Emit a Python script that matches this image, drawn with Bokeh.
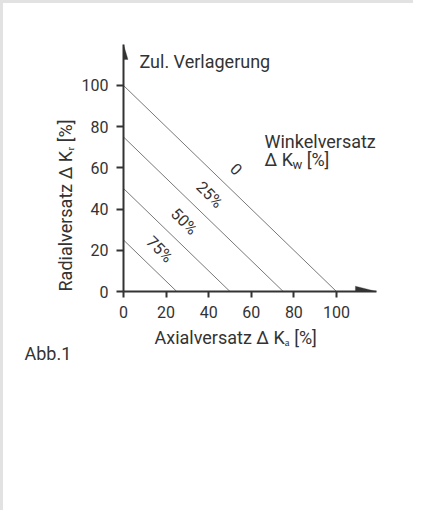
import math
from bokeh.plotting import figure
from bokeh.models import ColumnDataSource, FixedTicker, Label, PolyAnnotation, Title
from bokeh.core.properties import value
from bokeh.embed import file_html
from bokeh.resources import INLINE

# ---- data ----
x_ticks = [0, 20, 40, 60, 80, 100]
y_ticks = [0, 20, 40, 60, 80, 100]
line_totals = [100, 75, 50, 25]          # axial + radial limit for each angular offset
angular_labels = ["0", "25%", "50%", "75%"]
label_pos_x = [53, 40.5, 28.5, 17]       # where each label sits along its line
label_gap = 12.5

FONT = "Roboto"
TXT = "#333333"

W, H = 413, 510
p = figure(width=W, height=H, output_backend="svg", toolbar_location=None,
           x_range=(0, 118.8), y_range=(0, 119.9),
           min_border_left=120, min_border_top=41, min_border_right=40,
           min_border_bottom=222)
p.styles = {"border-left": "3px solid #e2e2e2", "border-top": "3px solid #e2e2e2"}
p.outline_line_color = None
p.xgrid.visible = False
p.ygrid.visible = False

for ax, ticks in ((p.xaxis, x_ticks), (p.yaxis, y_ticks)):
    ax.ticker = FixedTicker(ticks=ticks)
    ax.axis_line_color = TXT
    ax.axis_line_width = 2
    ax.major_tick_line_color = TXT
    ax.major_tick_line_width = 2
    ax.major_tick_in = 0
    ax.major_tick_out = 7
    ax.minor_tick_line_color = None
    ax.major_label_text_font = FONT
    ax.major_label_text_font_size = "16px"
    ax.major_label_text_color = TXT
p.xaxis.major_tick_out = 6
p.xaxis.major_label_standoff = 8
p.yaxis.major_label_standoff = 8

# diagonal limit lines
src = ColumnDataSource(dict(x0=[0] * len(line_totals), y0=line_totals,
                            x1=line_totals, y1=[0] * len(line_totals)))
p.segment(x0="x0", y0="y0", x1="x1", y1="y1", source=src,
          line_color="#555555", line_width=0.8)

# rotated line labels
lsrc = ColumnDataSource(dict(
    x=label_pos_x,
    y=[t + label_gap - lx for t, lx in zip(line_totals, label_pos_x)],
    t=angular_labels))
p.text(x="x", y="y", text="t", source=lsrc, angle=-math.pi / 4,
       text_align="center", text_baseline="middle",
       text_font=value(FONT), text_font_size="16px", text_color=TXT)

# arrow heads
p.add_layout(PolyAnnotation(xs=[-2.1, 0, 2.1], ys=[112.6, 119.9, 112.6],
                            fill_color=TXT, fill_alpha=1, line_color=TXT, line_width=1))
p.add_layout(PolyAnnotation(xs=[108.9, 118.8, 108.9], ys=[-2.6, 0, 2.6],
                            fill_color=TXT, fill_alpha=1, line_color=TXT, line_width=1))

def lab(x, y, text, size="18px"):
    p.add_layout(Label(x=x, y=y, text=text, text_font=FONT, text_font_size=size,
                       text_color=TXT, text_align="left", text_baseline="middle"))

lab(7.5, 111.7, "Zul. Verlagerung")
lab(66.2, 72.8, "Winkelversatz")
lab(66.2, 64.1, "Δ K")
lab(79.3, 61.5, "w", size="13px")
lab(86.0, 64.1, "[%]")

def title(text, offset, standoff, valign, side):
    t = Title(text=text, align="left", offset=offset, standoff=standoff,
              vertical_align=valign, text_font=FONT, text_font_size="18px",
              text_font_style="normal", text_color=TXT)
    p.add_layout(t, side)

title("Axialversatz Δ Kₐ [%]", 31, 13, "top", "below")
title("Abb.1", -99, -27, "top", "below")
title("Radialversatz Δ Kᵣ [%]", 0, 4, "middle", "left")

open("out.html", "w").write(file_html(p, INLINE))
